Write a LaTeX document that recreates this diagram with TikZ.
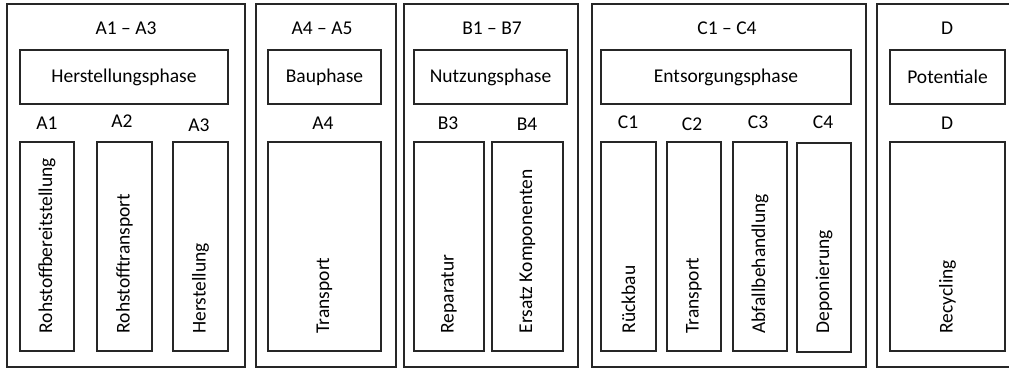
\documentclass[tikz,border=0pt]{standalone}
\usepackage{fontspec}
\setmainfont{Carlito}
\usepackage{tikz}
\usetikzlibrary{calc}
\usepackage{xcolor}

\begin{document}
\begin{tikzpicture}[
  x=1pt,y=-1pt,
  every node/.style={font=\fontsize{19.5}{22}\selectfont,text=black},
  frame/.style={draw=black!85,line width=1.2pt,inner sep=0pt},
  stage/.style={frame,minimum width=#1,minimum height=363},
  phase/.style={frame,minimum width=#1,minimum height=54},
  module/.style={frame,minimum width=#1,minimum height=209},
  vtext/.style={rotate=90,anchor=west,inner sep=0pt}
  ]
\def\hy{28}   % row of the stage headers
\def\my{123}  % row of the module codes
\clip (0,0) rectangle (1009,369);
\fill[white] (0,0) rectangle (1009,369);
% outer stages
\node[stage=238] (sA) at (126,185.5){};
\node[stage=140] (sAB) at (326,185.5){};
\node[stage=174] (sB) at (491,185.5){};
\node[stage=274] (sC) at (729,185.5){};
\node[stage=140] (sD) at (947,185.5){};
% stage headers
\node (hA) at (126,\hy) {A1 -- A3};
\node (hAB) at (322,\hy) {A4 -- A5};
\node (hB) at (492,\hy) {B1 -- B7};
\node (hC) at (727,\hy) {C1 -- C4};
\node (hD) at (947,\hy) {D};
% phases
\node[phase=208] (pA) at (124,77) {Herstellungsphase};
\node[phase=113] (pAB) at (324.5,77) {Bauphase};
\node[phase=153] (pB) at (490.5,77) {Nutzungsphase};
\node[phase=250] (pC) at (726,77) {Entsorgungsphase};
\node[phase=115] (pD) at (947.5,77) {Potentiale};
% module codes
\node (cA1) at (47,\my) {A1};
\node (cA2) at (122,\my-2) {A2};
\node (cA3) at (199,\my+2) {A3};
\node (cA4) at (323,\my) {A4};
\node (cB3) at (448,\my) {B3};
\node (cB4) at (527,\my+1) {B4};
\node (cC1) at (628,\my-1) {C1};
\node (cC2) at (692,\my+1) {C2};
\node (cC3) at (758,\my-1) {C3};
\node (cC4) at (823,\my-1) {C4};
\node (cD) at (947,\my) {D};
% module boxes
\node[module=54] (mA1) at (47,246.5){};
\node[module=55] (mA2) at (124.5,246.5){};
\node[module=55] (mA3) at (200.5,246.5){};
\node[module=113] (mA4) at (324.5,246.5){};
\node[module=70] (mB3) at (449,246.5){};
\node[module=71] (mB4) at (527.5,246.5){};
\node[module=55] (mC1) at (628.5,246.5){};
\node[module=54] (mC2) at (694,246.5){};
\node[module=54] (mC3) at (760,246.5){};
\node[module=54] (mC4) at (824,247.5){};
\node[module=115] (mD) at (947.5,246.5){};
% module names, read from bottom to top
\node[vtext] (tA1) at ($(mA1.south)+(0,-18)$) {Rohstoffbereitstellung};
\node[vtext] (tA2) at ($(mA2.south)+(0,-18)$) {Rohstofftransport};
\node[vtext] (tA3) at ($(mA3.south)+(0,-18)$) {Herstellung};
\node[vtext] (tA4) at ($(mA4.south)+(0,-18)$) {Transport};
\node[vtext] (tB3) at ($(mB3.south)+(0,-18)$) {Reparatur};
\node[vtext] (tB4) at ($(mB4.south)+(0,-18)$) {Ersatz Komponenten};
\node[vtext] (tC1) at ($(mC1.south)+(0,-18)$) {Rückbau};
\node[vtext] (tC2) at ($(mC2.south)+(0,-18)$) {Transport};
\node[vtext] (tC3) at ($(mC3.south)+(0,-18)$) {Abfallbehandlung};
\node[vtext] (tC4) at ($(mC4.south)+(0,-19)$) {Deponierung};
\node[vtext] (tD) at ($(mD.south)+(0,-18)$) {Recycling};
\end{tikzpicture}
\end{document}
